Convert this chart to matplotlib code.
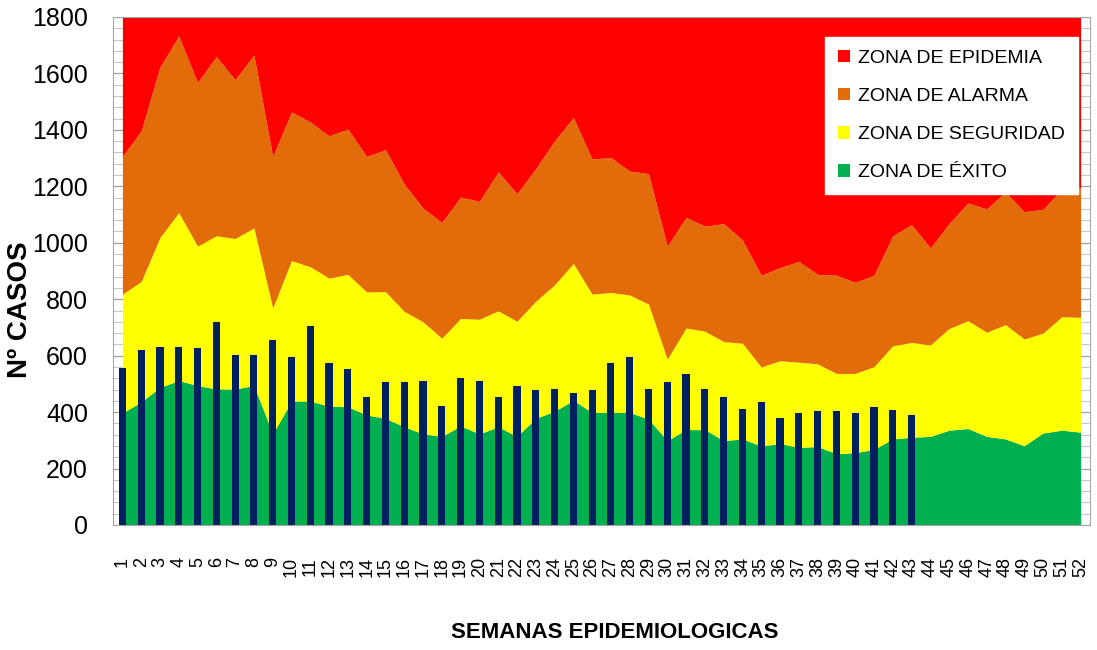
import matplotlib
matplotlib.use("Agg")
import matplotlib.pyplot as plt
from matplotlib.patches import Patch
import numpy as np

# weeks and zone limits (upper edge of each zone)
semanas = list(range(1, 53))

exito = [397, 436, 488, 512, 494, 482, 482, 494, 323, 439, 439, 421, 419, 390, 378, 348,
         323, 314, 351, 323, 348, 314, 378, 403, 442, 399, 399, 399, 375, 299, 338, 338,
         299, 305, 280, 289, 275, 278, 253, 256, 268, 305, 311, 314, 336, 342, 314, 305,
         281, 326, 336, 329]

seguridad = [818, 863, 1019, 1107, 988, 1025, 1015, 1053, 769, 937, 915, 875, 888, 826, 827, 757,
             720, 662, 732, 729, 759, 722, 793, 851, 927, 818, 824, 815, 783, 588, 698, 687,
             650, 644, 560, 582, 577, 571, 537, 537, 561, 635, 647, 638, 696, 724, 683, 710,
             659, 680, 738, 736]

alarma = [1306, 1397, 1623, 1733, 1568, 1660, 1578, 1666, 1306, 1464, 1428, 1379, 1403, 1306, 1330, 1208,
          1123, 1072, 1162, 1147, 1251, 1174, 1263, 1361, 1444, 1297, 1302, 1254, 1245, 988, 1090, 1059,
          1068, 1010, 885, 912, 934, 888, 885, 860, 885, 1025, 1064, 982, 1068, 1141, 1120, 1180,
          1110, 1119, 1190, 1195]

epidemia_tope = 1800

# reported cases, weeks 1-43
casos = [558, 620, 631, 631, 626, 718, 603, 603, 655, 596, 705, 574, 552, 454, 506, 506,
         511, 423, 522, 511, 454, 494, 478, 482, 466, 478, 574, 596, 482, 506, 535, 482,
         454, 412, 436, 378, 397, 403, 403, 397, 419, 406, 390]

zonas = ["ZONA DE EPIDEMIA", "ZONA DE ALARMA", "ZONA DE SEGURIDAD", "ZONA DE ÉXITO"]
colores = ["#FF0000", "#E36C0A", "#FFFF00", "#00B050"]

fuente = ["Liberation Sans", "DejaVu Sans"]

fig = plt.figure(figsize=(10.97, 6.5), dpi=100)
ax = fig.add_axes([113 / 1097, 1 - 525 / 650, 977 / 1097, 508 / 650])

x = np.array(semanas)
ax.fill_between(x, 0, exito, color=colores[3], lw=0)
ax.fill_between(x, exito, seguridad, color=colores[2], lw=0)
ax.fill_between(x, seguridad, alarma, color=colores[1], lw=0)
ax.fill_between(x, alarma, epidemia_tope, color=colores[0], lw=0)

ax.bar(semanas[:len(casos)], casos, width=0.38, color="#002060", zorder=3)

ax.set_xlim(0.5, 52.5)
ax.set_ylim(0, 1800)
ax.set_yticks(np.arange(0, 1801, 200))
ax.set_yticks(np.arange(0, 1801, 40), minor=True)
ax.set_axisbelow(True)
ax.grid(which="major", axis="y", color="#A0A0A0", lw=0.9)
ax.grid(which="minor", axis="y", color="#C8C8C8", lw=0.8)

ax.set_xticks(semanas)
ax.set_xticklabels([str(s) for s in semanas], rotation=90, family=fuente, fontsize=13)
for lab in ax.get_yticklabels():
    lab.set_family(fuente)
    lab.set_fontsize(18)
ax.tick_params(axis="x", length=0, pad=23)
ax.tick_params(axis="y", which="both", length=0, pad=18)
for sp in ax.spines.values():
    sp.set_color("#A6A6A6")

handles = [Patch(facecolor=c, edgecolor="none") for c in colores]
leg = ax.legend(handles, zonas, loc="upper right", bbox_to_anchor=(0.9877, 0.9606),
                borderaxespad=0, frameon=True, fancybox=False, framealpha=1,
                edgecolor="white", prop={"family": fuente, "size": 14},
                handlelength=0.62, handleheight=0.62, handletextpad=0.45,
                labelspacing=1.08, borderpad=0.65)

fig.text(615 / 1097, 1 - 632 / 650, "SEMANAS EPIDEMIOLOGICAS", ha="center", va="center",
         family=fuente, fontsize=16, fontweight="bold")
fig.text(20 / 1097, 1 - 310 / 650, "Nº CASOS", ha="center", va="center", rotation=90,
         family=fuente, fontsize=20, fontweight="bold")

fig.savefig("out.png", dpi=100)
